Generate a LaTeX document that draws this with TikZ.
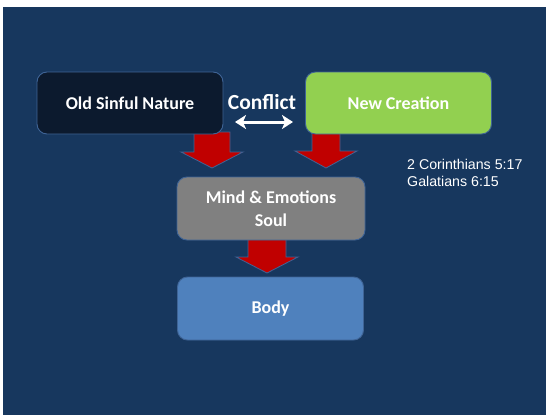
\documentclass[tikz,border=0pt]{standalone}
\usepackage{fontspec}
\setmainfont{Carlito}
\newfontfamily\arialfont{Liberation Sans}
\usetikzlibrary{arrows.meta}
\definecolor{bgnavy}{HTML}{17375E}
\definecolor{boxline}{HTML}{3F6496}
\definecolor{olddark}{HTML}{0C1A2E}
\definecolor{newgreen}{HTML}{92D050}
\definecolor{soulgrey}{HTML}{808080}
\definecolor{bodyblue}{HTML}{4F81BD}
\definecolor{arrowred}{HTML}{C00000}
\tikzset{
  boxstyle/.style={draw=boxline, line width=0.9pt, rounded corners=10pt,
    minimum width=186pt, minimum height=62pt, text=white,
    font=\bfseries\fontsize{18}{22}\selectfont, align=center, inner sep=0pt},
  blockarrowstyle/.style={fill=arrowred, draw=boxline, line width=0.8pt, line join=miter},
}
\newcommand{\myblockarrow}[6]{% center x, top y, base y, tip y, shaft half, head half
  \path[blockarrowstyle] (#1-#5,#2) -- (#1+#5,#2) -- (#1+#5,#3) -- (#1+#6,#3) -- (#1,#4)
    -- (#1-#6,#3) -- (#1-#5,#3) -- cycle;}
\begin{document}
\begin{tikzpicture}[x=1pt,y=-1pt]
\useasboundingbox (0,0) rectangle (546,415);
\fill[white] (0,0) rectangle (546,415);
\fill[bgnavy] (3,7) rectangle (546,415);
% arrows behind boxes
\myblockarrow{212}{132}{152}{168}{18}{31}
\myblockarrow{326}{132}{151}{168}{14}{31}
\myblockarrow{267}{238}{257}{273}{19}{31}
% boxes
\node[boxstyle, fill=olddark] (old) at (130,103) {Old Sinful Nature};
\node[boxstyle, fill=newgreen] (new) at (398.5,103) {New Creation};
\node[boxstyle, fill=soulgrey, minimum width=188pt, minimum height=63pt] (soul) at (271,208.5) {Mind \& Emotions\\[1pt]Soul};
\node[boxstyle, fill=bodyblue, minimum height=63pt] (body) at (270.5,308.5) {Body};
% conflict
\node[text=white, font=\bfseries\fontsize{21.5}{24}\selectfont, inner sep=0pt] (conflict) at (262,102) {Conflict};
\coordinate (cl) at (235,122);
\coordinate (cr) at (293,122);
\draw[white, line width=3pt, {Stealth[length=11pt,width=14pt,inset=3pt]}-{Stealth[length=11pt,width=14pt,inset=3pt]}] (cl) -- (cr);
% references
\node[text=white, font=\arialfont\fontsize{14.2}{17}\selectfont, align=left, anchor=north west, inner sep=0pt] (refs) at (407,159) {2 Corinthians 5:17\\Galatians 6:15};
\end{tikzpicture}
\end{document}
